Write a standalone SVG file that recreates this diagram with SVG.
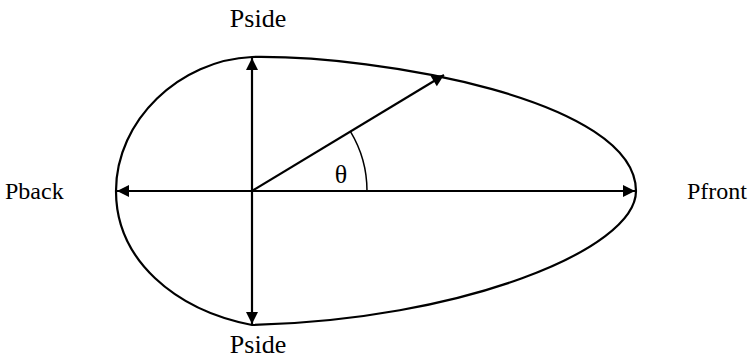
<svg xmlns="http://www.w3.org/2000/svg" width="749" height="358" viewBox="0 0 749 358">
<style>
.lbl{font-family:"Liberation Serif","Times New Roman",serif;font-size:26px;fill:#000}
.side{font-size:24px}
.ln{stroke:#000;stroke-width:2.2;fill:none}
</style>
<defs>
<marker id="ah" viewBox="0 0 10 10" refX="10" refY="5" markerWidth="13" markerHeight="12" markerUnits="userSpaceOnUse" orient="auto">
<path d="M0,0 L10,5 L0,10 z" fill="#000"/>
</marker>
</defs>
<rect width="749" height="358" fill="#fff"/>
<g id="shape">
<path class="ln" d="M252,57 C380,55 636,100 636,191 C636,250 460,320 252,325 C175,310 116,260 116,191 C116,120 180,60 252,57 Z"/>
</g>
<g id="connectors">
<line class="ln" x1="252" y1="191" x2="252" y2="58" marker-end="url(#ah)"/>
<line class="ln" x1="252" y1="191" x2="252" y2="324" marker-end="url(#ah)"/>
<line class="ln" x1="252" y1="191" x2="117" y2="191" marker-end="url(#ah)"/>
<line class="ln" x1="252" y1="191" x2="635" y2="191" marker-end="url(#ah)"/>
<line class="ln" x1="252" y1="191" x2="444" y2="75" marker-end="url(#ah)"/>
<path d="M350.5,131.6 A115,115 0 0 1 367,191" fill="none" stroke="#000" stroke-width="1.5"/>
</g>
<g id="label-pside-top"><text class="lbl" x="258" y="27" text-anchor="middle">Pside</text></g>
<g id="label-pside-bottom"><text class="lbl" x="258" y="353" text-anchor="middle">Pside</text></g>
<g id="label-pback"><text class="lbl side" x="5" y="199">Pback</text></g>
<g id="label-pfront"><text class="lbl side" x="747" y="199" text-anchor="end">Pfront</text></g>
<g id="label-theta"><text class="lbl" x="341" y="183" text-anchor="middle">θ</text></g>
</svg>
